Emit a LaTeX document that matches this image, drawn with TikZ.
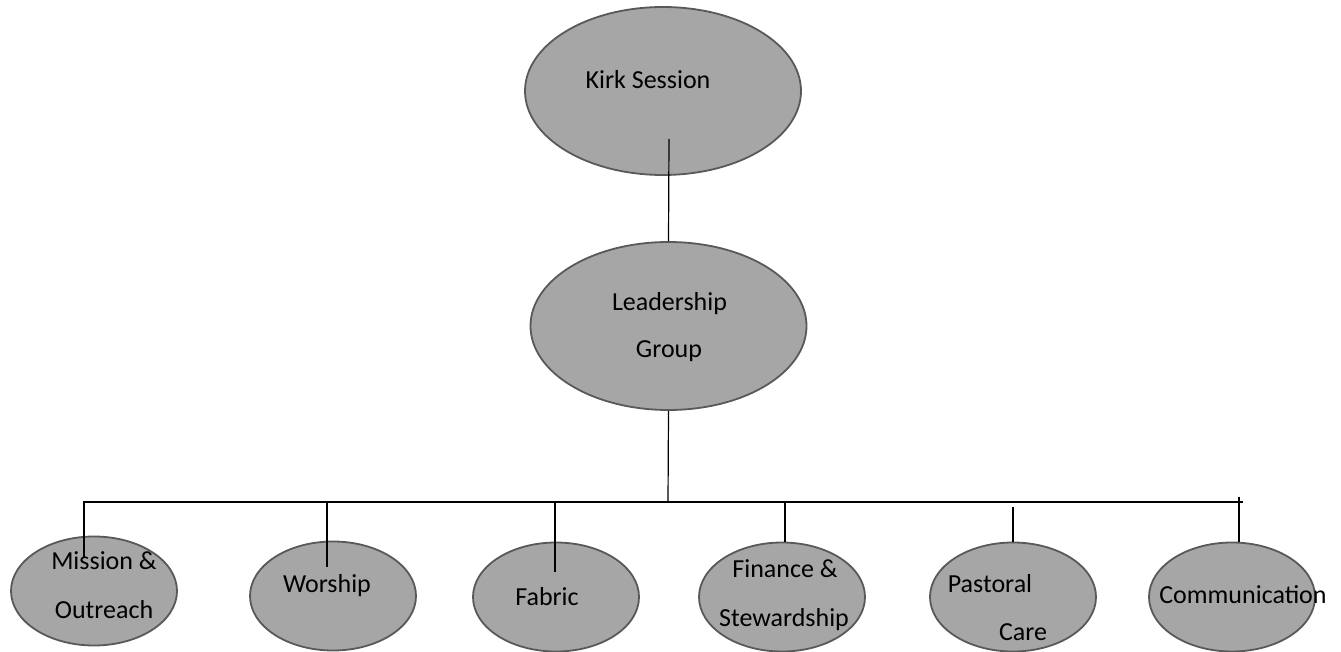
\documentclass[tikz,border=0pt]{standalone}
\usepackage{fontspec}
\setmainfont{Carlito}
\usetikzlibrary{shapes.geometric}
\begin{document}
\begin{tikzpicture}[x=1pt,y=-1pt,
  blob/.style={ellipse, draw=black!65, line width=1.8pt, fill=black!35, inner sep=0pt},
  bigblob/.style={blob, minimum width=276pt, minimum height=168pt},
  smallblob/.style={blob, minimum width=166pt, minimum height=109pt},
  lbl/.style={anchor=base, inner sep=0pt, font=\fontsize{26}{30}\selectfont},
  wire/.style={draw=black, line width=1.2pt}]
\useasboundingbox (0,0) rectangle (1341,652);
\fill[white] (0,0) rectangle (1341,652);
% top nodes
\node[bigblob] (kirk) at (663,91) {};
\node[bigblob] (lead) at (668.5,326) {};
\node[lbl] (tkirk) at (648,89) {Kirk Session};
\node[lbl] (tlead1) at (669.5,310) {Leadership};
\node[lbl] (tlead2) at (669,357) {Group};
% bottom nodes
\node[smallblob] (mis) at (94,591) {};
\node[smallblob] (wor) at (333,596) {};
\node[smallblob] (fab) at (556,597) {};
\node[smallblob] (fin) at (782,597) {};
\node[smallblob] (pas) at (1013,597) {};
\node[smallblob] (com) at (1232,597) {};
\node[lbl] (tmis1) at (104,569) {Mission \&};
\node[lbl] (tmis2) at (104,618) {Outreach};
\node[lbl] (twor) at (327,592) {Worship};
\node[lbl] (tfab) at (547,605) {Fabric};
\node[lbl] (tfin1) at (785,577) {Finance \&};
\node[lbl] (tfin2) at (784,626) {Stewardship};
\node[lbl] (tpas1) at (990,592) {Pastoral};
\node[lbl] (tpas2) at (1023,640) {Care};
\node[lbl] (tcom) at (1243,603) {Communication};
% connector points
\coordinate (kirkdrop) at (669,139);
\coordinate (leadbus) at (668,502);
\coordinate (busL) at (83,502);
\coordinate (busR) at (1243,502);
\coordinate (misT) at (84,502);
\coordinate (misB) at (84,557);
\coordinate (worT) at (327,502);
\coordinate (worB) at (327,567);
\coordinate (fabT) at (555,502);
\coordinate (fabB) at (555,572);
\coordinate (finT) at (785,502);
\coordinate (pasT) at (1013,507);
\coordinate (comT) at (1239,497);
% connectors
\draw[wire] (kirkdrop) -- (lead.north);
\draw[wire] (lead.south) -- (leadbus);
\draw[wire] (busL) -- (busR);
\draw[wire] (misT) -- (misB);
\draw[wire] (worT) -- (worB);
\draw[wire, line width=2pt] (fabT) -- (fabB);
\draw[wire] (finT) -- (fin.north -| finT);
\draw[wire] (pasT) -- (pas.north);
\draw[wire] (comT) -- (com.north -| comT);
\end{tikzpicture}
\end{document}
